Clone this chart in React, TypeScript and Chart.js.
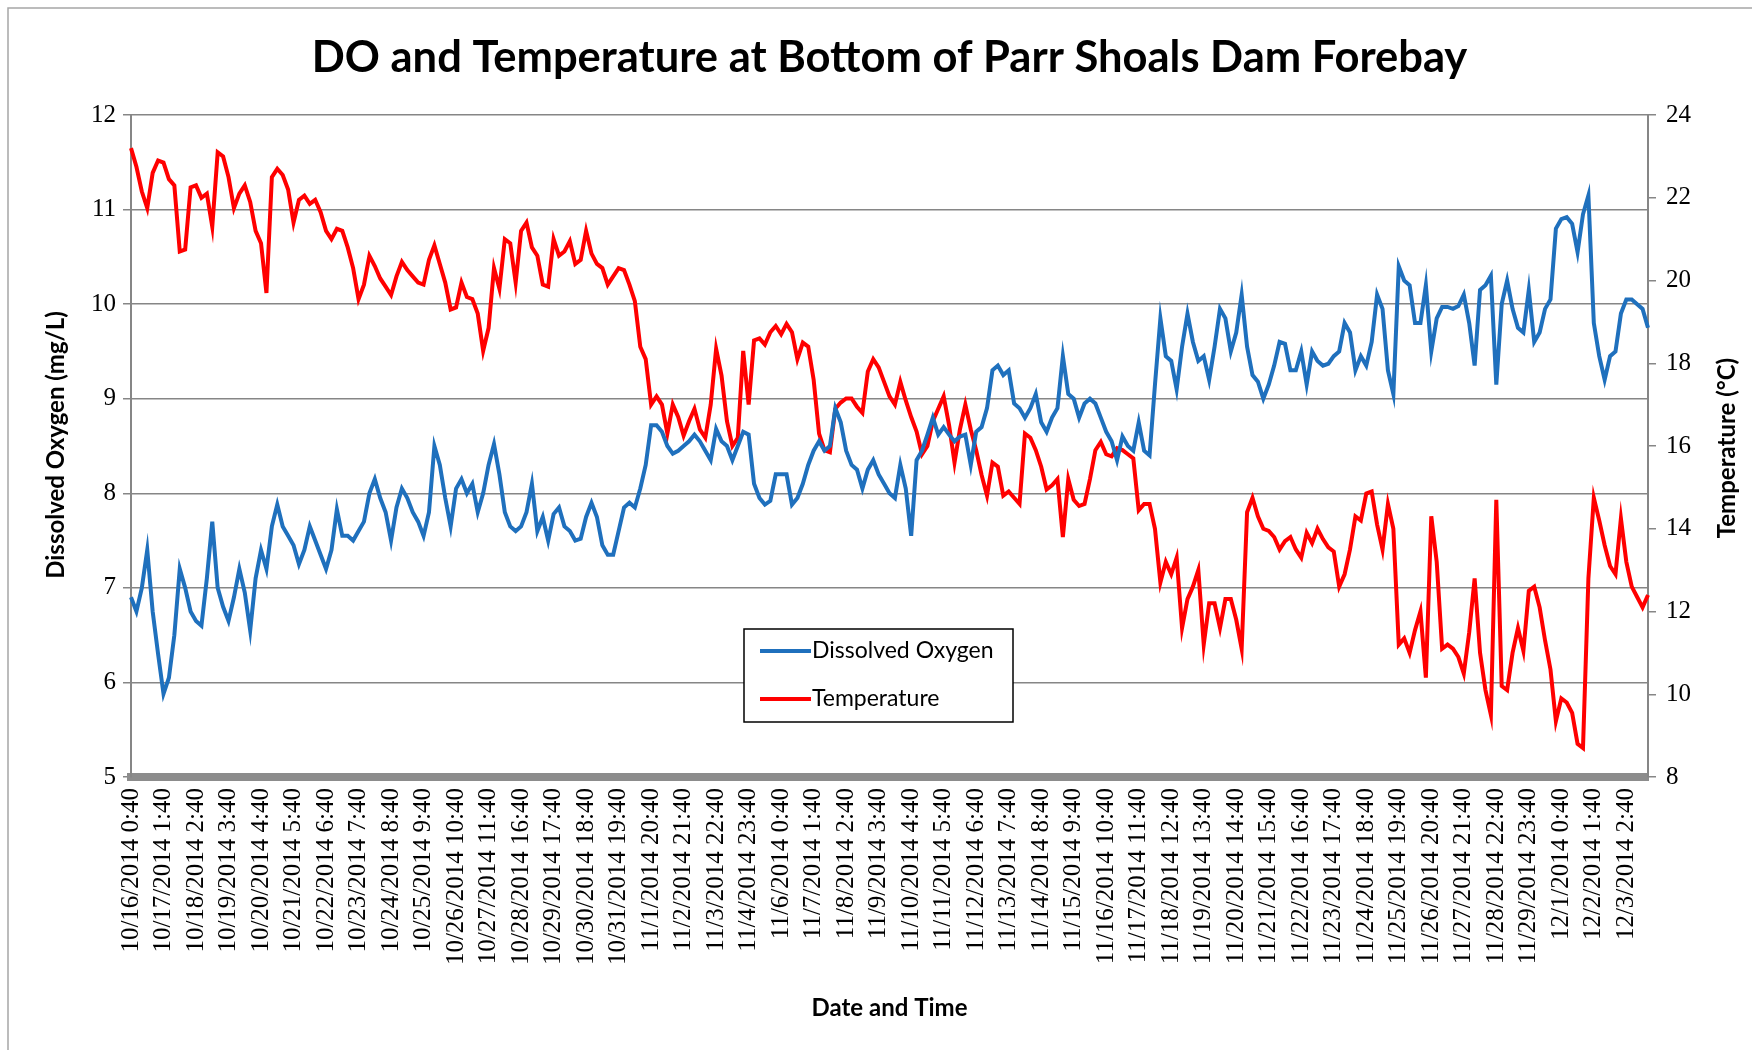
import React, { useEffect, useRef } from "react";
import { Chart, registerables } from "chart.js";

Chart.register(...registerables);

const CHART_TITLE = "DO and Temperature at Bottom of Parr Shoals Dam Forebay";
const X_TITLE = "Date and Time";
const Y_LEFT_TITLE = "Dissolved Oxygen (mg/L)";
const Y_RIGHT_TITLE = "Temperature (°C)";
const SERIES_NAMES = ["Dissolved Oxygen", "Temperature"];
const SERIES_COLORS = ["#1f70bd", "#ff0000"];

const TICK_LABELS = [
  "10/16/2014 0:40", "10/17/2014 1:40", "10/18/2014 2:40", "10/19/2014 3:40",
  "10/20/2014 4:40", "10/21/2014 5:40", "10/22/2014 6:40", "10/23/2014 7:40",
  "10/24/2014 8:40", "10/25/2014 9:40", "10/26/2014 10:40", "10/27/2014 11:40",
  "10/28/2014 16:40", "10/29/2014 17:40", "10/30/2014 18:40", "10/31/2014 19:40",
  "11/1/2014 20:40", "11/2/2014 21:40", "11/3/2014 22:40", "11/4/2014 23:40",
  "11/6/2014 0:40", "11/7/2014 1:40", "11/8/2014 2:40", "11/9/2014 3:40",
  "11/10/2014 4:40", "11/11/2014 5:40", "11/12/2014 6:40", "11/13/2014 7:40",
  "11/14/2014 8:40", "11/15/2014 9:40", "11/16/2014 10:40", "11/17/2014 11:40",
  "11/18/2014 12:40", "11/19/2014 13:40", "11/20/2014 14:40", "11/21/2014 15:40",
  "11/22/2014 16:40", "11/23/2014 17:40", "11/24/2014 18:40", "11/25/2014 19:40",
  "11/26/2014 20:40", "11/27/2014 21:40", "11/28/2014 22:40", "11/29/2014 23:40",
  "12/1/2014 0:40", "12/2/2014 1:40", "12/3/2014 2:40",
];
const POINTS_PER_TICK = 6;

const DISSOLVED_OXYGEN = [
  6.9, 6.75, 7.0, 7.4, 6.75, 6.3, 5.88, 6.05, 6.5, 7.2,
  7.0, 6.75, 6.65, 6.6, 7.1, 7.7, 7.0, 6.8, 6.65, 6.9,
  7.2, 6.95, 6.55, 7.1, 7.4, 7.2, 7.65, 7.88, 7.65, 7.55,
  7.45, 7.25, 7.4, 7.65, 7.5, 7.35, 7.2, 7.4, 7.83, 7.55,
  7.55, 7.5, 7.6, 7.7, 8.0, 8.15, 7.95, 7.8, 7.5, 7.85,
  8.05, 7.95, 7.8, 7.7, 7.55, 7.8, 8.5, 8.3, 7.95, 7.65,
  8.05, 8.15, 8.0, 8.1, 7.8, 8.0, 8.3, 8.52, 8.2, 7.8,
  7.65, 7.6, 7.65, 7.8, 8.1, 7.6, 7.75, 7.5, 7.78, 7.85,
  7.65, 7.6, 7.5, 7.52, 7.75, 7.9, 7.75, 7.45, 7.35, 7.35,
  7.6, 7.85, 7.9, 7.85, 8.05, 8.3, 8.72, 8.72, 8.65, 8.5,
  8.42, 8.45, 8.5, 8.55, 8.62, 8.55, 8.45, 8.35, 8.68, 8.55,
  8.5, 8.35, 8.5, 8.65, 8.62, 8.1, 7.95, 7.88, 7.92, 8.2,
  8.2, 8.2, 7.88, 7.95, 8.1, 8.3, 8.45, 8.55, 8.45, 8.5,
  8.9, 8.75, 8.45, 8.3, 8.25, 8.05, 8.25, 8.35, 8.2, 8.1,
  8.0, 7.95, 8.3, 8.05, 7.55, 8.35, 8.45, 8.62, 8.8, 8.62,
  8.7, 8.62, 8.55, 8.6, 8.62, 8.3, 8.65, 8.7, 8.9, 9.3,
  9.35, 9.25, 9.3, 8.95, 8.9, 8.8, 8.9, 9.05, 8.75, 8.65,
  8.8, 8.9, 9.45, 9.05, 9.0, 8.8, 8.95, 9.0, 8.95, 8.8,
  8.65, 8.55, 8.35, 8.6, 8.5, 8.45, 8.75, 8.45, 8.4, 9.15,
  9.85, 9.45, 9.4, 9.1, 9.55, 9.9, 9.6, 9.4, 9.45, 9.2,
  9.55, 9.95, 9.85, 9.5, 9.7, 10.1, 9.55, 9.25, 9.18, 9.0,
  9.15, 9.35, 9.6, 9.58, 9.3, 9.3, 9.5, 9.15, 9.5, 9.4,
  9.35, 9.37, 9.45, 9.5, 9.8, 9.7, 9.3, 9.45, 9.35, 9.6,
  10.1, 9.95, 9.3, 9.05, 10.4, 10.25, 10.2, 9.8, 9.8, 10.2,
  9.5, 9.85, 9.97, 9.97, 9.95, 9.98, 10.1, 9.8, 9.35, 10.15,
  10.2, 10.3, 9.15, 10.0, 10.25, 9.95, 9.75, 9.7, 10.15, 9.6,
  9.7, 9.95, 10.05, 10.8, 10.9, 10.92, 10.85, 10.55, 10.95, 11.15,
  9.8, 9.45, 9.2, 9.45, 9.5, 9.9, 10.05, 10.05, 10.0, 9.95,
  9.75,
];

const TEMPERATURE = [
  23.2, 22.75, 22.15, 21.75, 22.6, 22.9, 22.85, 22.45, 22.3, 20.7,
  20.75, 22.25, 22.3, 22.0, 22.1, 21.3, 23.1, 23.0, 22.5, 21.75,
  22.1, 22.3, 21.9, 21.2, 20.9, 19.7, 22.5, 22.7, 22.55, 22.2,
  21.4, 21.95, 22.05, 21.85, 21.95, 21.65, 21.2, 21.0, 21.25, 21.2,
  20.8, 20.3, 19.55, 19.9, 20.6, 20.35, 20.05, 19.85, 19.65, 20.1,
  20.45, 20.25, 20.1, 19.95, 19.9, 20.5, 20.85, 20.4, 19.95, 19.3,
  19.35, 19.95, 19.6, 19.55, 19.2, 18.3, 18.85, 20.3, 19.8, 21.0,
  20.9, 19.95, 21.2, 21.4, 20.8, 20.6, 19.9, 19.85, 21.0, 20.6,
  20.7, 20.95, 20.4, 20.5, 21.2, 20.65, 20.4, 20.3, 19.9, 20.1,
  20.3, 20.25, 19.9, 19.5, 18.4, 18.1, 17.0, 17.2, 17.0, 16.3,
  17.0, 16.7, 16.25, 16.6, 16.9, 16.4, 16.2, 17.0, 18.35, 17.7,
  16.6, 16.0, 16.2, 18.3, 17.0, 18.55, 18.6, 18.45, 18.75, 18.9,
  18.7, 18.95, 18.75, 18.1, 18.5, 18.4, 17.6, 16.3, 15.9, 15.85,
  16.9, 17.05, 17.15, 17.15, 16.95, 16.8, 17.8, 18.1, 17.9, 17.55,
  17.2, 17.0, 17.55, 17.1, 16.7, 16.35, 15.8, 16.0, 16.6, 16.9,
  17.2, 16.5, 15.6, 16.4, 17.0, 16.4, 15.9, 15.3, 14.8, 15.6,
  15.5, 14.8, 14.9, 14.75, 14.6, 16.3, 16.2, 15.9, 15.5, 14.95,
  15.05, 15.2, 13.8, 15.2, 14.7, 14.55, 14.6, 15.2, 15.9, 16.1,
  15.8, 15.75, 15.95, 15.9, 15.8, 15.7, 14.45, 14.6, 14.6, 14.0,
  12.7, 13.2, 12.9, 13.3, 11.6, 12.3, 12.6, 13.0, 11.2, 12.2,
  12.2, 11.6, 12.3, 12.3, 11.8, 11.1, 14.4, 14.75, 14.3, 14.0,
  13.95, 13.8, 13.5, 13.7, 13.8, 13.5, 13.3, 13.9, 13.65, 14.0,
  13.75, 13.55, 13.45, 12.6, 12.9, 13.5, 14.3, 14.2, 14.85, 14.9,
  14.1, 13.5, 14.6, 14.0, 11.2, 11.35, 11.0, 11.55, 12.0, 10.4,
  14.3, 13.2, 11.1, 11.2, 11.1, 10.9, 10.5, 11.5, 12.8, 11.0,
  10.1, 9.5, 14.7, 10.2, 10.1, 11.0, 11.6, 11.05, 12.5, 12.6,
  12.1, 11.3, 10.6, 9.35, 9.9, 9.8, 9.55, 8.8, 8.7, 12.8,
  14.75, 14.2, 13.6, 13.1, 12.9, 14.25, 13.2, 12.6, 12.35, 12.1,
  12.4,
];

const GRID_COLOR = "#868686";
const TICK_FONT = { family: "Liberation Serif", size: 25 };

const decorPlugin = {
  id: "decor",
  beforeDraw(chart: any) {
    const ctx = chart.ctx;
    ctx.save();
    ctx.fillStyle = "#ffffff";
    ctx.fillRect(0, 0, chart.width, chart.height);
    ctx.strokeStyle = "#a6a6a6";
    ctx.lineWidth = 1.5;
    ctx.beginPath();
    ctx.moveTo(8, chart.height);
    ctx.lineTo(8, 8);
    ctx.lineTo(chart.width, 8);
    ctx.stroke();
    ctx.restore();
  },
  afterDraw(chart: any) {
    const { ctx, chartArea } = chart;
    ctx.save();
    ctx.fillStyle = "#000";
    ctx.textAlign = "center";
    ctx.textBaseline = "alphabetic";
    ctx.font = "bold 43.5px Lato";
    ctx.fillText(CHART_TITLE, (chartArea.left + chartArea.right) / 2, 72);

    ctx.font = "bold 24px Lato";
    ctx.textBaseline = "middle";
    ctx.save();
    ctx.translate(56, 445);
    ctx.rotate(-Math.PI / 2);
    ctx.fillText(Y_LEFT_TITLE, 0, 0);
    ctx.restore();
    ctx.save();
    ctx.translate(1727, 448);
    ctx.rotate(-Math.PI / 2);
    ctx.fillText(Y_RIGHT_TITLE, 0, 0);
    ctx.restore();

    // legend box
    const lx = 744, ly = 629, lw = 269, lh = 93;
    ctx.fillStyle = "#fff";
    ctx.fillRect(lx, ly, lw, lh);
    ctx.strokeStyle = "#000";
    ctx.lineWidth = 1.5;
    ctx.strokeRect(lx, ly, lw, lh);
    chart.data.datasets.forEach((ds: any, k: number) => {
      const y = 651 + k * 48;
      ctx.strokeStyle = ds.borderColor;
      ctx.lineWidth = 4;
      ctx.beginPath();
      ctx.moveTo(760, y);
      ctx.lineTo(811, y);
      ctx.stroke();
      ctx.fillStyle = "#000";
      ctx.font = "23px Lato";
      ctx.textAlign = "left";
      ctx.textBaseline = "middle";
      ctx.fillText(ds.label, 812, y);
    });
    ctx.restore();
  },
};

export default function App() {
  const canvasRef = useRef<HTMLCanvasElement | null>(null);

  useEffect(() => {
    const canvas = canvasRef.current;
    if (!canvas) return;
    const labels = DISSOLVED_OXYGEN.map((_, i) =>
      i % POINTS_PER_TICK === 0 ? TICK_LABELS[i / POINTS_PER_TICK] ?? "" : ""
    );
    const chart = new Chart(canvas, {
      type: "line",
      data: {
        labels,
        datasets: [
          {
            label: SERIES_NAMES[0],
            data: DISSOLVED_OXYGEN,
            borderColor: SERIES_COLORS[0],
            backgroundColor: SERIES_COLORS[0],
            borderWidth: 4,
            pointRadius: 0,
            tension: 0,
            fill: false,
            yAxisID: "y",
          },
          {
            label: SERIES_NAMES[1],
            data: TEMPERATURE,
            borderColor: SERIES_COLORS[1],
            backgroundColor: SERIES_COLORS[1],
            borderWidth: 4,
            pointRadius: 0,
            tension: 0,
            fill: false,
            yAxisID: "y1",
          },
        ],
      },
      options: {
        responsive: false,
        animation: false,
        devicePixelRatio: 1,
        layout: { padding: { top: 115, left: 0, right: 0, bottom: 0 } },
        plugins: {
          legend: { display: false },
          title: { display: false },
          tooltip: { enabled: false },
        },
        scales: {
          x: {
            type: "category",
            grid: { display: false, drawTicks: true, tickLength: 8 },
            border: { display: true, color: "#8c8c8c", width: 8 },
            ticks: {
              autoSkip: false,
              maxRotation: 90,
              minRotation: 90,
              padding: 3,
              color: "#000",
              font: TICK_FONT,
            },
            title: {
              display: true,
              text: X_TITLE,
              color: "#000",
              font: { family: "Lato", size: 24, weight: "bold" },
              padding: { top: 0, bottom: 27 },
            },
            afterFit: (s: any) => {
              s.height = 273;
            },
          },
          y: {
            position: "left",
            min: 5,
            max: 12,
            ticks: { stepSize: 1, padding: 7, color: "#000", font: TICK_FONT },
            grid: { color: GRID_COLOR, lineWidth: 1.5, tickLength: 8 },
            border: { color: GRID_COLOR, width: 2 },
            afterFit: (s: any) => {
              s.width = 131;
            },
          },
          y1: {
            position: "right",
            min: 8,
            max: 24,
            ticks: { stepSize: 2, padding: 10, color: "#000", font: TICK_FONT },
            grid: {
              drawOnChartArea: false,
              color: GRID_COLOR,
              lineWidth: 1.5,
              tickLength: 8,
            },
            border: { color: GRID_COLOR, width: 2 },
            afterFit: (s: any) => {
              s.width = 104;
            },
          },
        },
      } as any,
      plugins: [decorPlugin],
    });
    return () => chart.destroy();
  }, []);

  return (
    <div
      style={{
        position: "fixed",
        left: 0,
        top: 0,
        width: 1752,
        height: 1050,
        background: "#fff",
      }}
    >
      <canvas
        ref={canvasRef}
        width={1752}
        height={1050}
        style={{ width: 1752, height: 1050, display: "block" }}
      />
    </div>
  );
}
